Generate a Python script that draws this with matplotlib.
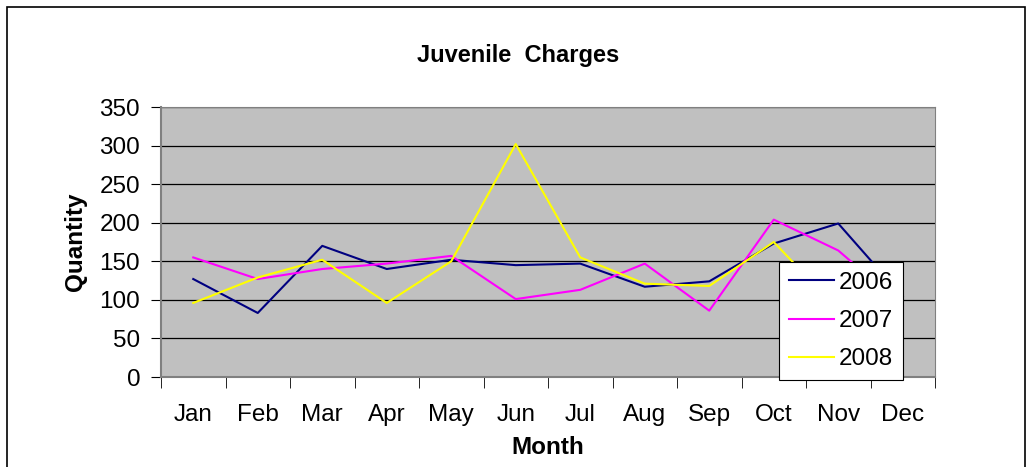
import matplotlib.pyplot as plt
from matplotlib.patches import Rectangle

months = ["Jan", "Feb", "Mar", "Apr", "May", "Jun",
          "Jul", "Aug", "Sep", "Oct", "Nov", "Dec"]
y2006 = [127, 83, 170, 140, 152, 145, 147, 117, 124, 173, 199, 104]
y2007 = [155, 127, 140, 147, 157, 101, 113, 147, 86, 204, 164, 92]
y2008 = [96, 129, 152, 96, 150, 302, 155, 121, 118, 175, 87, 100]

plt.rcParams["font.family"] = ["Liberation Sans", "DejaVu Sans"]
FS = 17.5

W, H = 1032, 467
fig = plt.figure(figsize=(W / 100, H / 100), dpi=100)
fig.patches.append(Rectangle((7 / W, -0.1), 1018 / W, 1 - 7 / H + 0.1,
                             transform=fig.transFigure, fill=False,
                             edgecolor="black", linewidth=1.2))

ax = fig.add_axes([161 / W, (H - 377) / H, 774 / W, 270 / H])
ax.set_facecolor("#C0C0C0")

x = list(range(len(months)))
ax.plot(x, y2006, color="#000080", linewidth=1.5, label="2006")
ax.plot(x, y2007, color="#FF00FF", linewidth=1.5, label="2007")
ax.plot(x, y2008, color="#FFFF00", linewidth=1.5, label="2008")

ax.set_xlim(-0.5, 11.5)
ax.set_ylim(0, 350)
ax.set_yticks(range(0, 351, 50))
ax.yaxis.grid(True, color="black", linewidth=0.9)
ax.set_axisbelow(True)

ax.set_xticks(x)
ax.set_xticklabels(months, fontsize=FS)
ax.set_xticks([i + 0.5 for i in range(-1, 12)], minor=True)
ax.tick_params(axis="x", which="major", length=0, pad=19.5)
ax.tick_params(axis="x", which="minor", length=8, direction="out", color="black")
ax.tick_params(axis="y", length=7, direction="out", labelsize=FS, color="black", pad=8)

for side in ["top", "right"]:
    ax.spines[side].set_color("#808080")
for side in ["left", "bottom"]:
    ax.spines[side].set_color("#808080")
    ax.spines[side].set_linewidth(1.5)

ax.set_xlabel("Month", fontsize=FS, fontweight="bold", labelpad=7.5)
ax.set_ylabel("Quantity", fontsize=FS, fontweight="bold", labelpad=9)
fig.text(518 / W, 1 - 62 / H, "Juvenile  Charges", fontsize=17, fontweight="bold",
         ha="center", va="baseline")

leg = ax.legend(loc="upper left", bbox_to_anchor=(779 / W, 1 - 262 / H),
                bbox_transform=fig.transFigure, fontsize=FS, frameon=True,
                fancybox=False, framealpha=1, edgecolor="black",
                handlelength=1.85, labelspacing=0.67, borderpad=0.4,
                handletextpad=0.2, borderaxespad=0)
leg.get_frame().set_linewidth(0.8)

fig.savefig("out.png", dpi=100)
